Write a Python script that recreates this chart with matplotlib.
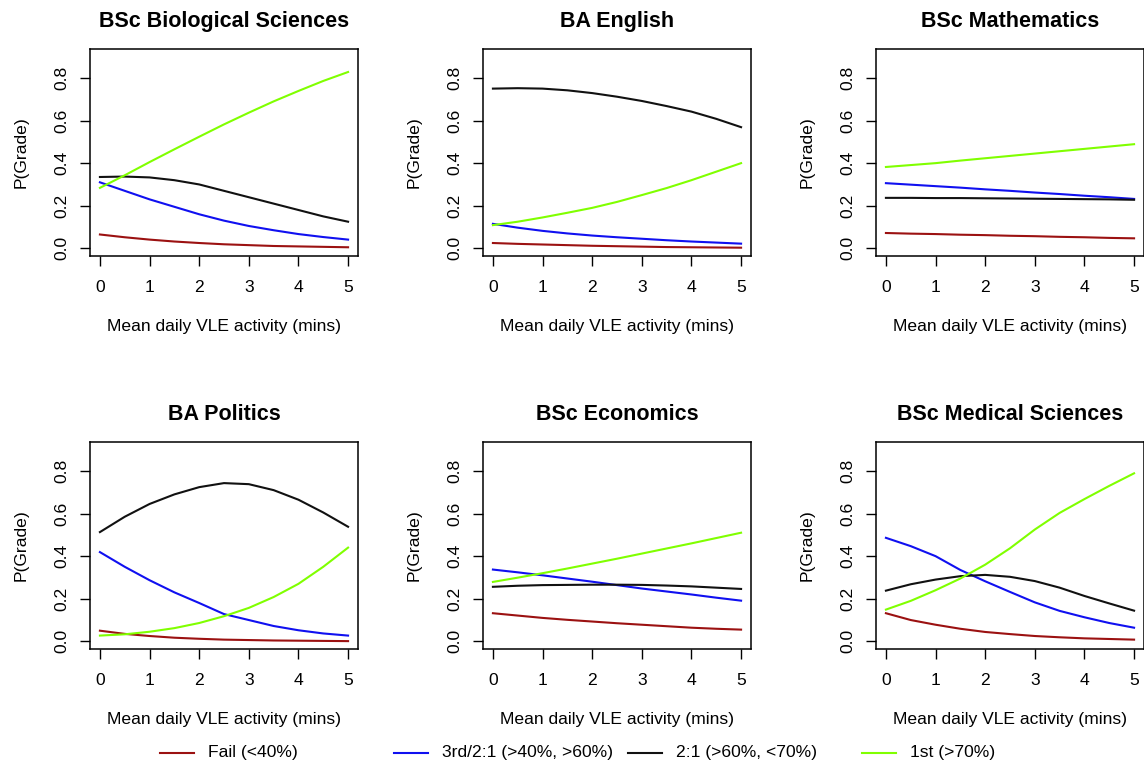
import matplotlib
matplotlib.use("Agg")
import matplotlib.pyplot as plt
from matplotlib.lines import Line2D

plt.rcParams["font.family"] = ["Liberation Sans", "DejaVu Sans"]

# mean daily VLE activity (mins) at which the fitted probabilities were read
activity = [0, 0.5, 1, 1.5, 2, 2.5, 3, 3.5, 4, 4.5, 5]

grade_labels = ["Fail (<40%)", "3rd/2:1 (>40%, >60%)", "2:1 (>60%, <70%)", "1st (>70%)"]
grade_colors = ["#9b1111", "#1010f0", "#111111", "#80ff00"]

courses = ["BSc Biological Sciences", "BA English", "BSc Mathematics",
           "BA Politics", "BSc Economics", "BSc Medical Sciences"]

bio_fail = [0.065, 0.052, 0.041, 0.032, 0.025, 0.019, 0.015, 0.011, 0.009, 0.007, 0.005]
bio_third = [0.31, 0.27, 0.23, 0.195, 0.16, 0.13, 0.105, 0.085, 0.067, 0.053, 0.041]
bio_upper = [0.335, 0.337, 0.333, 0.32, 0.30, 0.27, 0.24, 0.21, 0.18, 0.15, 0.125]
bio_first = [0.284, 0.343, 0.405, 0.465, 0.524, 0.582, 0.637, 0.69, 0.739, 0.786, 0.828]

eng_fail = [0.025, 0.021, 0.018, 0.015, 0.012, 0.010, 0.008, 0.006, 0.005, 0.004, 0.003]
eng_third = [0.115, 0.097, 0.082, 0.070, 0.060, 0.052, 0.045, 0.038, 0.032, 0.027, 0.022]
eng_upper = [0.75, 0.752, 0.75, 0.742, 0.729, 0.712, 0.692, 0.668, 0.642, 0.608, 0.569]
eng_first = [0.109, 0.125, 0.145, 0.167, 0.19, 0.218, 0.25, 0.283, 0.32, 0.36, 0.40]

math_fail = [0.072, 0.069, 0.067, 0.064, 0.062, 0.059, 0.057, 0.054, 0.052, 0.049, 0.047]
math_third = [0.306, 0.299, 0.292, 0.285, 0.277, 0.27, 0.262, 0.255, 0.247, 0.24, 0.232]
math_upper = [0.237, 0.237, 0.236, 0.236, 0.235, 0.234, 0.233, 0.232, 0.231, 0.23, 0.228]
math_first = [0.382, 0.391, 0.40, 0.412, 0.423, 0.434, 0.445, 0.456, 0.467, 0.478, 0.489]

pol_fail = [0.05, 0.035, 0.025, 0.017, 0.012, 0.008, 0.006, 0.004, 0.003, 0.002, 0.001]
pol_third = [0.419, 0.35, 0.287, 0.23, 0.18, 0.128, 0.1, 0.072, 0.052, 0.037, 0.027]
pol_upper = [0.513, 0.585, 0.645, 0.69, 0.724, 0.743, 0.738, 0.71, 0.665, 0.605, 0.538]
pol_first = [0.027, 0.033, 0.045, 0.062, 0.086, 0.118, 0.157, 0.208, 0.27, 0.35, 0.44]

econ_fail = [0.132, 0.121, 0.11, 0.101, 0.093, 0.085, 0.078, 0.071, 0.064, 0.059, 0.055]
econ_third = [0.337, 0.324, 0.31, 0.295, 0.28, 0.264, 0.248, 0.234, 0.22, 0.205, 0.191]
econ_upper = [0.256, 0.261, 0.264, 0.265, 0.266, 0.266, 0.265, 0.262, 0.258, 0.252, 0.246]
econ_first = [0.279, 0.299, 0.32, 0.342, 0.365, 0.388, 0.412, 0.436, 0.46, 0.485, 0.51]

med_fail = [0.132, 0.10, 0.078, 0.059, 0.044, 0.034, 0.025, 0.019, 0.014, 0.011, 0.008]
med_third = [0.486, 0.447, 0.40, 0.335, 0.282, 0.232, 0.183, 0.143, 0.113, 0.086, 0.064]
med_upper = [0.238, 0.268, 0.29, 0.306, 0.312, 0.303, 0.283, 0.252, 0.213, 0.178, 0.144]
med_first = [0.149, 0.19, 0.24, 0.295, 0.36, 0.437, 0.525, 0.603, 0.668, 0.73, 0.789]

probs = [
    [bio_fail, bio_third, bio_upper, bio_first],
    [eng_fail, eng_third, eng_upper, eng_first],
    [math_fail, math_third, math_upper, math_first],
    [pol_fail, pol_third, pol_upper, pol_first],
    [econ_fail, econ_third, econ_upper, econ_first],
    [med_fail, med_third, med_upper, med_first],
]

W, H = 1144, 769
fig = plt.figure(figsize=(W / 100, H / 100), dpi=100)

col_left = [90, 483, 876]
row_top = [49, 442]
ax_w, ax_h = 268, 207
fs = 12.6

for i, (title, series) in enumerate(zip(courses, probs)):
    r, c = divmod(i, 3)
    ax = fig.add_axes([col_left[c] / W, 1 - (row_top[r] + ax_h) / H, ax_w / W, ax_h / H])
    for ys, col in zip(series, grade_colors):
        ax.plot(activity, ys, color=col, lw=1.5)
    ax.set_xlim(-0.2, 5.2)
    ax.set_ylim(-0.036, 0.936)
    ax.set_xticks(range(6))
    ax.set_yticks([0, 0.2, 0.4, 0.6, 0.8])
    ax.set_yticklabels(["0.0", "0.2", "0.4", "0.6", "0.8"])
    ax.tick_params(axis="both", direction="out", length=7.5, width=1, labelsize=fs)
    ax.tick_params(axis="x", pad=10)
    ax.tick_params(axis="y", pad=7, labelrotation=90)
    for lbl in ax.get_yticklabels():
        lbl.set_va("center")
    for sp in ax.spines.values():
        sp.set_linewidth(1.1)
    ax.set_title(title, fontsize=15.5, fontweight="bold", pad=16)
    ax.set_xlabel("Mean daily VLE activity (mins)", fontsize=fs)
    ax.set_ylabel("P(Grade)", fontsize=fs)
    ax.xaxis.set_label_coords(0.5, -0.305)
    ax.yaxis.set_label_coords(-0.228, 0.5)

# shared legend along the bottom, evenly spaced entries
leg_y = 1 - 753 / H
for k, (lbl, col) in enumerate(zip(grade_labels, grade_colors)):
    x0 = (160 + k * 234) / W
    fig.add_artist(Line2D([x0, x0 + 34 / W], [leg_y, leg_y], color=col, lw=1.5,
                          transform=fig.transFigure))
    fig.text(x0 + 48 / W, leg_y, lbl, fontsize=fs, va="center", ha="left")

fig.savefig("out.png", dpi=100)
